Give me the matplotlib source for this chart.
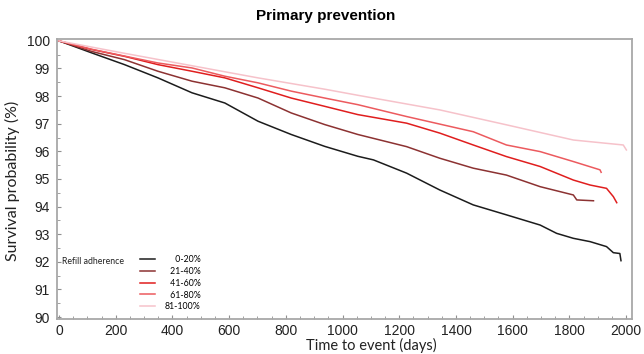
import matplotlib
matplotlib.use('agg')
import matplotlib.pyplot as plt
from matplotlib.ticker import MultipleLocator

# Kaplan-Meier curves (days, survival %)
days_0_20 = [0, 114, 231, 349, 469, 585, 702, 819, 937, 1054, 1109, 1226, 1343, 1461,
             1578, 1697, 1755, 1814, 1873, 1931, 1955, 1978, 1982]
surv_0_20 = [100, 99.57, 99.14, 98.66, 98.12, 97.75, 97.09, 96.61, 96.18, 95.82, 95.69, 95.21, 94.60, 94.06,
             93.70, 93.33, 93.03, 92.85, 92.73, 92.55, 92.33, 92.30, 92.04]

days_21_40 = [0, 114, 231, 349, 469, 585, 702, 819, 937, 1054, 1226, 1343, 1461,
              1578, 1697, 1814, 1826, 1885]
surv_21_40 = [100, 99.62, 99.32, 98.90, 98.54, 98.30, 97.93, 97.39, 96.97, 96.61, 96.17, 95.75, 95.39,
              95.14, 94.72, 94.42, 94.24, 94.21]

days_41_60 = [0, 114, 231, 349, 469, 585, 702, 819, 937, 1054, 1226, 1343, 1461,
              1578, 1697, 1814, 1873, 1931, 1955, 1967]
surv_41_60 = [100, 99.69, 99.44, 99.14, 98.90, 98.66, 98.30, 97.93, 97.63, 97.33, 97.02, 96.66, 96.23,
              95.81, 95.45, 94.96, 94.78, 94.66, 94.36, 94.14]

days_61_80 = [0, 114, 231, 349, 469, 585, 702, 819, 937, 1054, 1226, 1461,
              1578, 1697, 1814, 1908, 1912]
surv_61_80 = [100, 99.70, 99.45, 99.20, 99.02, 98.72, 98.48, 98.18, 97.93, 97.69, 97.26, 96.71,
              96.23, 95.99, 95.63, 95.33, 95.24]

days_81_100 = [0, 231, 469, 702, 937, 1054, 1343, 1578, 1814, 1931, 1990, 2001]
surv_81_100 = [100, 99.55, 99.10, 98.66, 98.25, 98.03, 97.50, 96.96, 96.41, 96.29, 96.23, 96.05]

groups = ['0-20%', '21-40%', '41-60%', '61-80%', '81-100%']
# figure spaces so the labels end flush right, as in the reference
labels = ['\u2007\u20070-20%', '\u200721-40%', '\u200741-60%', '\u200761-80%', '81-100%']
colors = ['#1c1c1c', '#8c3232', '#e01e1e', '#ec5a5e', '#f6c2ca']
all_days = [days_0_20, days_21_40, days_41_60, days_61_80, days_81_100]
all_surv = [surv_0_20, surv_21_40, surv_41_60, surv_61_80, surv_81_100]

tick_font = ['Liberation Sans Narrow', 'Liberation Sans', 'DejaVu Sans']
text_font = ['Lato', 'DejaVu Sans']

fig = plt.figure(figsize=(6.44, 3.54), dpi=100)
ax = fig.add_axes([0.0885, 0.099, 0.8925, 0.791])

handles = []
for d, s, c, lab in zip(all_days, all_surv, colors, labels):
    h, = ax.plot(d, s, color=c, lw=1.1, label=lab)
    handles.append(h)

ax.set_xlim(-7, 2020)
ax.set_ylim(89.93, 100.07)
ax.xaxis.set_major_locator(MultipleLocator(200))
ax.xaxis.set_minor_locator(MultipleLocator(50))
ax.yaxis.set_major_locator(MultipleLocator(1))
ax.yaxis.set_minor_locator(MultipleLocator(0.5))
ax.tick_params(which='both', direction='in', color='#909090', labelcolor='#222222')
ax.tick_params(which='major', length=3, width=0.8, labelsize=10, pad=5)
ax.tick_params(axis='x', which='major', pad=3.5)
ax.tick_params(which='minor', length=2, width=0.6)
for lab in ax.get_xticklabels() + ax.get_yticklabels():
    lab.set_family(tick_font)

for sp in ax.spines.values():
    sp.set_color('#a8a8a8')
    sp.set_linewidth(1.3)

ax.set_xlabel('Time to event (days)', family=text_font, fontsize=10.5, color='#222222', va='bottom')
ax.xaxis.set_label_coords(0.546, -0.123)
ax.set_ylabel('Survival probability (%)', family=text_font, fontsize=11.5, color='#222222')
ax.yaxis.set_label_coords(-0.064, 0.493)
fig.suptitle('Primary prevention', x=0.505, y=0.975, family=tick_font, fontweight='bold', fontsize=11)

leg = ax.legend(handles=handles, loc='upper left', bbox_to_anchor=(0.144, 0.228),
                frameon=False, prop={'family': text_font, 'size': 6.3},
                handlelength=1.75, handletextpad=1.1, labelspacing=0.32, borderpad=0, borderaxespad=0)
ax.text(0.009, 0.204, 'Refill adherence', transform=ax.transAxes, ha='left', va='center',
        family=text_font, fontsize=6.3, color='#222222')

plt.savefig('out.png', dpi=100)
